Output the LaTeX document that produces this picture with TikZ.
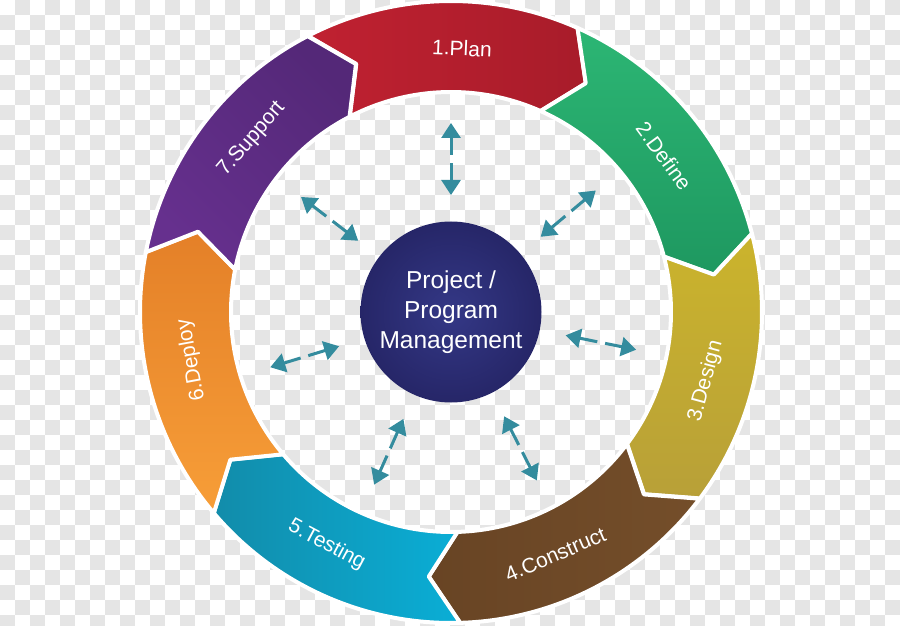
\documentclass[tikz,border=0pt]{standalone}
\usepackage{fontspec}
\setmainfont{Liberation Sans}
\usetikzlibrary{arrows.meta}

\definecolor{checker}{RGB}{229,229,229}
\definecolor{planredA}{RGB}{192,33,49}
\definecolor{planredB}{RGB}{168,28,42}
\definecolor{definegreenA}{RGB}{44,182,116}
\definecolor{definegreenB}{RGB}{30,152,96}
\definecolor{designyellowA}{RGB}{203,180,44}
\definecolor{designyellowB}{RGB}{184,160,56}
\definecolor{constructbrownA}{RGB}{104,68,36}
\definecolor{constructbrownB}{RGB}{116,78,42}
\definecolor{testingcyanA}{RGB}{18,140,170}
\definecolor{testingcyanB}{RGB}{10,174,214}
\definecolor{deployorangeA}{RGB}{228,128,40}
\definecolor{deployorangeB}{RGB}{247,158,56}
\definecolor{supportpurpleA}{RGB}{84,40,120}
\definecolor{supportpurpleB}{RGB}{102,48,142}
\definecolor{pmnavy}{RGB}{38,38,104}
\definecolor{pmnavylight}{RGB}{52,56,134}
\definecolor{linkteal}{RGB}{52,140,158}

\tikzset{
  seg/.style={draw=white, line width=4pt, line join=round},
  steplabel/.style={text=white, font=\fontsize{21}{25}\selectfont},
  link/.style={{Triangle[length=15pt,width=19pt]}-{Triangle[length=15pt,width=19pt]},
    line width=3pt, draw=linkteal, dash pattern=on 18pt off 8pt on 80pt},
}

\begin{document}
\begin{tikzpicture}[x=1pt,y=1pt]
    \useasboundingbox (0,0) rectangle (900,625);
    \clip (0,0) rectangle (900,625);

    % background squares
    \fill[white] (0,0) rectangle (900,625);
    \foreach \i in {0,...,59}
      \foreach \j in {0,...,41} {
        \pgfmathtruncatemacro{\odd}{mod(\i+\j,2)}
        \ifnum\odd=1 \fill[checker] (15*\i,610-15*\j) rectangle ++(15,15); \fi
      }

    \begin{scope}[shift={(451,313)}]
      % ring of seven arrow segments, clockwise
      \foreach \hi/\col/\ang in {117.4/planred/90, 66/definegreen/0, 14.6/designyellow/0,
                                 -36.9/constructbrown/90, -88.3/testingcyan/90,
                                 -139.7/deployorange/0, -191.1/supportpurple/-45} {
        \pgfmathsetmacro{\lo}{\hi-51.43}
        \pgfmathsetmacro{\tiplo}{\lo-6.5}
        \pgfmathsetmacro{\tiphi}{\hi-6.5}
        \path[seg, top color=\col A, bottom color=\col B, shading angle=\ang]
          (\hi:311) arc[start angle=\hi, end angle=\lo, radius=311]
          -- (\tiplo:265.5) -- (\lo:220) arc[start angle=\lo, end angle=\hi, radius=220]
          -- (\tiphi:265.5) -- cycle;
      }

      % labels along the ring
      \node[steplabel, rotate=-2.4]  (plan)      at (87.6:264)   {1.Plan};
      \node[steplabel, rotate=-53.8] (define)    at (36.2:264)   {2.Define};
      \node[steplabel, rotate=74.8]  (design)    at (-15.2:264)  {3.Design};
      \node[steplabel, rotate=23.3]  (construct) at (-66.7:264)  {4.Construct};
      \node[steplabel, rotate=-28.1] (testing)   at (-118.1:264) {5.Testing};
      \node[steplabel, rotate=100.5] (deploy)    at (-169.5:264) {6.Deploy};
      \node[steplabel, rotate=49.1]  (support)   at (-220.9:264) {7.Support};

      % centre
      \node[circle, minimum size=181pt, inner sep=0pt, shading=radial,
            inner color=pmnavylight, outer color=pmnavy, text=white, align=center,
            font=\fontsize{24.5}{30}\selectfont] (pm) at (0,0)
            {Project /\\Program\\Management};

      % double arrows between centre and ring
      \foreach \a [count=\k] in {90, 40, -11.5, -63, -114, -163, -217.5} {
        \coordinate (in\k)  at (\a:117);
        \coordinate (out\k) at (\a:189);
        \draw[link] (in\k) -- (out\k);
      }
    \end{scope}
\end{tikzpicture}
\end{document}
